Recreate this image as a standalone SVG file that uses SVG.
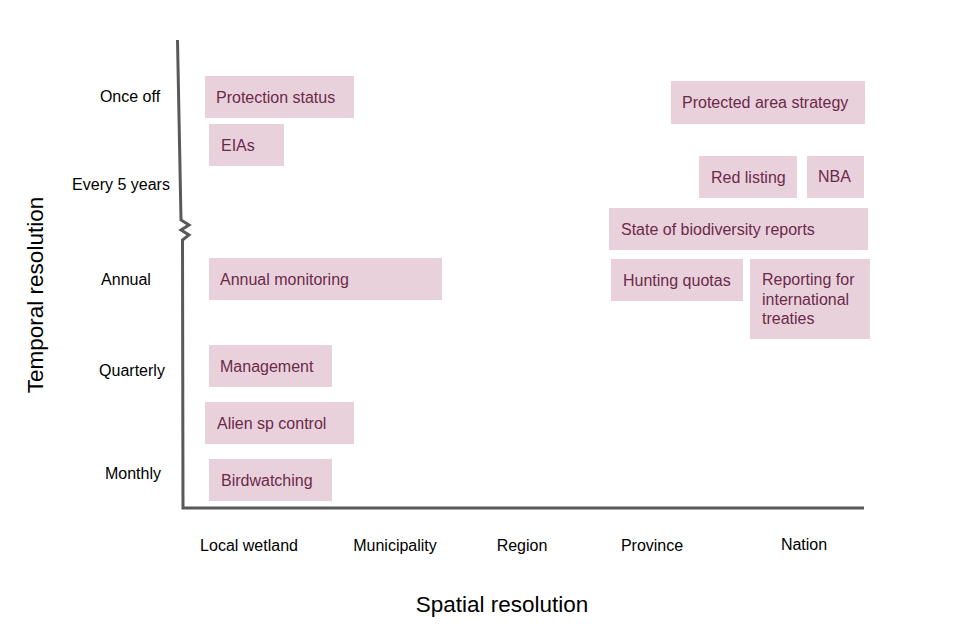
<svg xmlns="http://www.w3.org/2000/svg" width="970" height="640" viewBox="0 0 970 640">
<style>
.box{fill:#e9d1dc}
.bt{font-family:"Liberation Sans",Arial,sans-serif;font-size:16px;fill:#6b2a4a}
.lab{font-family:"Liberation Sans",Arial,sans-serif;font-size:16px;fill:#000;text-anchor:middle}
.ttl{font-family:"Liberation Sans",Arial,sans-serif;font-size:22.5px;fill:#000;text-anchor:middle}
.ax{fill:none;stroke:#595959;stroke-width:3;stroke-linejoin:miter}
</style>
<rect width="970" height="640" fill="#fff"/>
<g id="axes">
<path class="ax" d="M177.5,40 L181,220 L189,225 L181,230 L189,235 L182.5,240 L183,508 L864,508"/>
</g>
<g id="y-labels">
<text class="lab" x="130" y="102">Once off</text>
<text class="lab" x="121" y="190">Every 5 years</text>
<text class="lab" x="126" y="285">Annual</text>
<text class="lab" x="132" y="376">Quarterly</text>
<text class="lab" x="133" y="479">Monthly</text>
</g>
<g id="x-labels">
<text class="lab" x="249" y="551">Local wetland</text>
<text class="lab" x="395" y="551">Municipality</text>
<text class="lab" x="522" y="551">Region</text>
<text class="lab" x="652" y="551">Province</text>
<text class="lab" x="804" y="550">Nation</text>
</g>
<text class="ttl" x="502" y="612">Spatial resolution</text>
<text class="ttl" transform="translate(43,295) rotate(-90)">Temporal resolution</text>
<g id="protection-status"><rect class="box" x="205" y="76" width="149" height="42"/><text class="bt" x="216" y="103">Protection status</text></g>
<g id="eias"><rect class="box" x="209" y="124" width="75" height="42"/><text class="bt" x="221" y="151">EIAs</text></g>
<g id="protected-area-strategy"><rect class="box" x="671" y="81" width="194" height="43"/><text class="bt" x="682" y="108">Protected area strategy</text></g>
<g id="red-listing"><rect class="box" x="699" y="156" width="98" height="42"/><text class="bt" x="711" y="183">Red listing</text></g>
<g id="nba"><rect class="box" x="807" y="156" width="57" height="42"/><text class="bt" x="818" y="182">NBA</text></g>
<g id="state-of-biodiversity"><rect class="box" x="609" y="208" width="259" height="42"/><text class="bt" x="621" y="235">State of biodiversity reports</text></g>
<g id="hunting-quotas"><rect class="box" x="611" y="259" width="132" height="42"/><text class="bt" x="623" y="286">Hunting quotas</text></g>
<g id="reporting-treaties"><rect class="box" x="750" y="259" width="120" height="80"/><text class="bt" x="762" y="285">Reporting for</text><text class="bt" x="762" y="305">international</text><text class="bt" x="762" y="324">treaties</text></g>
<g id="annual-monitoring"><rect class="box" x="209" y="258" width="233" height="42"/><text class="bt" x="220" y="285">Annual monitoring</text></g>
<g id="management"><rect class="box" x="209" y="345" width="123" height="42"/><text class="bt" x="220" y="372">Management</text></g>
<g id="alien-sp-control"><rect class="box" x="205" y="402" width="149" height="42"/><text class="bt" x="217" y="429">Alien sp control</text></g>
<g id="birdwatching"><rect class="box" x="209" y="459" width="123" height="42"/><text class="bt" x="221" y="486">Birdwatching</text></g>
</svg>
